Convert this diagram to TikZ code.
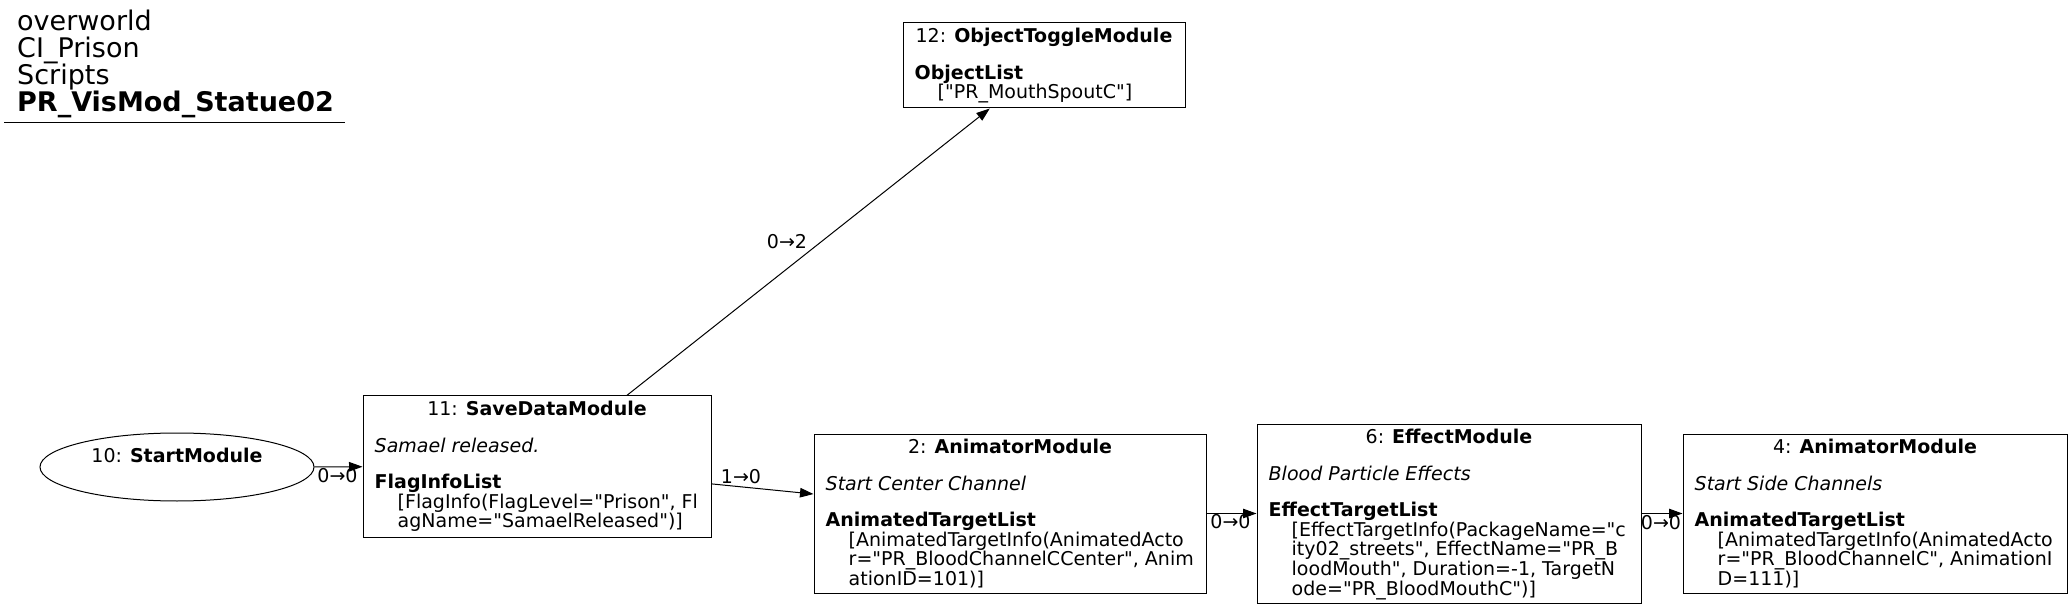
\documentclass[tikz,border=0pt]{standalone}
\usepackage{fontspec}
\defaultfontfeatures[\rmfamily]{}
\setmainfont{DejaVu Sans}
\usetikzlibrary{arrows.meta,shapes.geometric}
\begin{document}
\begin{tikzpicture}[x=1pt,y=-1pt,
  box/.style={draw, line width=1.0pt, rectangle, inner sep=0pt},
  hdr/.style={anchor=base, inner sep=0pt, font=\fontsize{19}{18.3}\selectfont},
  body/.style={anchor=north west, inner sep=0pt, align=left, font=\fontsize{19}{18.3}\selectfont},
  edge/.style={line width=1.0pt, -{Triangle[length=13.5pt,width=9.5pt]}},
  lbl/.style={font=\fontsize{19}{19}\selectfont, inner sep=0pt, anchor=base},
  ttl/.style={font=\fontsize{27}{27}\selectfont, inner sep=0pt, anchor=base west}]
\useasboundingbox (0,0) rectangle (2072,609);

% title block
\node[ttl] (t1) at (17,31) {overworld};
\node[ttl] (t2) at (17,58) {CI\_Prison};
\node[ttl] (t3) at (17,85) {Scripts};
\node[ttl] (t4) at (17,112) {\textbf{PR\_VisMod\_Statue02}};
\coordinate (ul1) at (4,123);
\coordinate (ul2) at (345,123);
\draw[line width=1.0pt] (ul1) -- (ul2);

% start ellipse
\node[draw, ellipse, line width=1.0pt, inner sep=0pt, minimum width=274pt, minimum height=68pt] (n10) at (177,467) {};
\node[lbl] (n10t) at (177,462) {10: \textbf{StartModule}};

% box 12
\node[box, minimum width=282pt, minimum height=85pt] (n12) at (1044,65.5) {};
\node[hdr] (n12h) at ([yshift=-20pt]n12.north) {12: \textbf{ObjectToggleModule}};
\node[body] (n12b) at ([xshift=12pt,yshift=-42.2pt]n12.north west) {%
\textbf{ObjectList}\\
\hspace*{23pt}["PR\_MouthSpoutC"]};

% box 11
\node[box, minimum width=348pt, minimum height=141pt] (n11) at (537,466.5) {};
\node[hdr] (n11h) at ([yshift=-20pt]n11.north) {11: \textbf{SaveDataModule}};
\node[body] (n11b) at ([xshift=12pt,yshift=-42.2pt]n11.north west) {%
\textit{Samael released.}\\[18.3pt]
\textbf{FlagInfoList}\\
\hspace*{23pt}[FlagInfo(FlagLevel="Prison", Fl\\
\hspace*{23pt}agName="SamaelReleased")]};

% box 2
\node[box, minimum width=392pt, minimum height=159pt] (n2) at (1010,513.5) {};
\node[hdr] (n2h) at ([yshift=-20pt]n2.north) {2: \textbf{AnimatorModule}};
\node[body] (n2b) at ([xshift=12pt,yshift=-42.2pt]n2.north west) {%
\textit{Start Center Channel}\\[18.3pt]
\textbf{AnimatedTargetList}\\
\hspace*{23pt}[AnimatedTargetInfo(AnimatedActo\\
\hspace*{23pt}r="PR\_BloodChannelCCenter", Anim\\
\hspace*{23pt}ationID=101)]};

% box 6
\node[box, minimum width=384pt, minimum height=179pt] (n6) at (1449,513.5) {};
\node[hdr] (n6h) at ([yshift=-20pt]n6.north) {6: \textbf{EffectModule}};
\node[body] (n6b) at ([xshift=12pt,yshift=-42.2pt]n6.north west) {%
\textit{Blood Particle Effects}\\[18.3pt]
\textbf{EffectTargetList}\\
\hspace*{23pt}[EffectTargetInfo(PackageName="c\\
\hspace*{23pt}ity02\_streets", EffectName="PR\_B\\
\hspace*{23pt}loodMouth", Duration=-1, TargetN\\
\hspace*{23pt}ode="PR\_BloodMouthC")]};

% box 4
\node[box, minimum width=384pt, minimum height=159pt] (n4) at (1875,513.5) {};
\node[hdr] (n4h) at ([yshift=-20pt]n4.north) {4: \textbf{AnimatorModule}};
\node[body] (n4b) at ([xshift=12pt,yshift=-42.2pt]n4.north west) {%
\textit{Start Side Channels}\\[18.3pt]
\textbf{AnimatedTargetList}\\
\hspace*{23pt}[AnimatedTargetInfo(AnimatedActo\\
\hspace*{23pt}r="PR\_BloodChannelC", AnimationI\\
\hspace*{23pt}D=111)]};

% edges
\draw[edge] (n10) -- (n11);
\draw[edge] (n11) -- (n12);
\draw[edge] (n11) -- (n2);
\draw[edge] (n2) -- (n6);
\draw[edge] (n6) -- (n4);

% edge labels
\node[lbl] (l1) at (337.5,482) {0→0};
\node[lbl] (l2) at (787,249) {0→2};
\node[lbl] (l3) at (741,483) {1→0};
\node[lbl] (l4) at (1230.5,528) {0→0};
\node[lbl] (l5) at (1661,529) {0→0};
\end{tikzpicture}
\end{document}
